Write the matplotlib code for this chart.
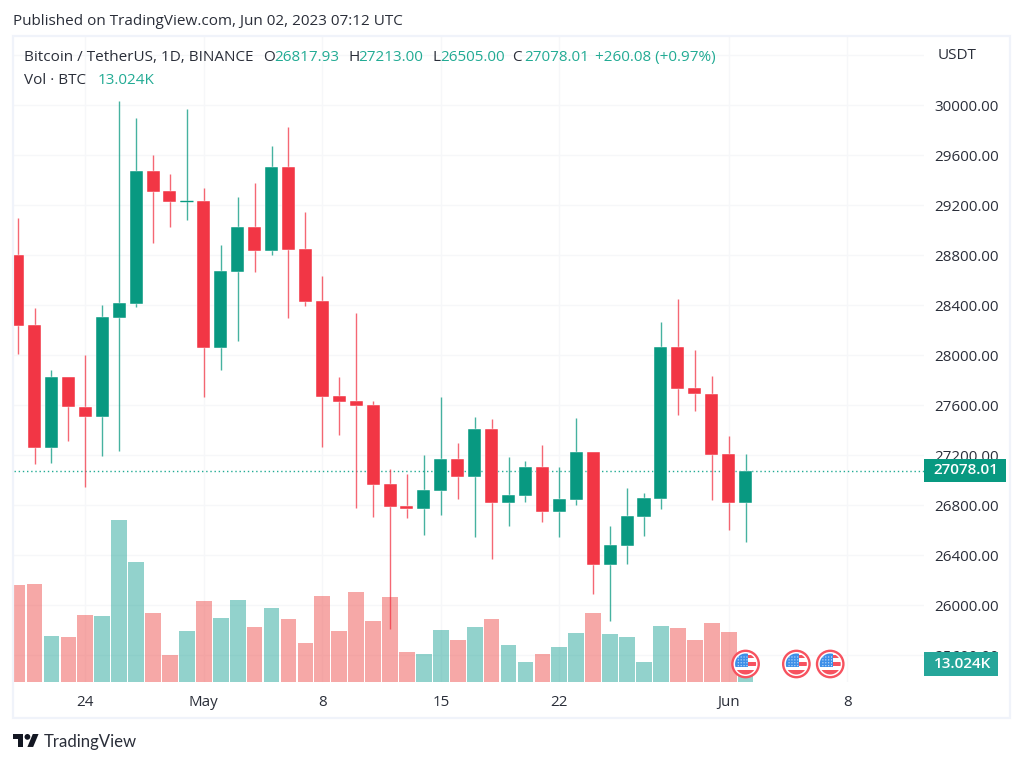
import matplotlib
matplotlib.use("Agg")
import matplotlib.pyplot as plt
from matplotlib.patches import Circle, Rectangle, Polygon

plt.rcParams['font.family'] = ['Open Sans', 'DejaVu Sans']

# ---- data (Apr 20 2023 .. Jun 2 2023, daily) ----
opens = [28799, 28242, 27261, 27823, 27589, 27506, 28301, 28413, 29474, 29311, 29229,
         29234, 28061, 28666, 29029, 28834, 29506, 28847, 28431, 27674, 27631, 27602,
         26970, 26794, 26767, 26914, 27167, 27029, 27407, 26818, 26871, 27103, 26746,
         26845, 27223, 26325, 26471, 26703, 26853, 28066, 27735, 27693, 27210, 26817.93]
highs = [29095, 28375, 27882, 27823, 28002, 28402, 30034, 29895, 29599, 29450, 29970,
         29338, 28882, 29269, 29381, 29677, 29823, 29143, 28637, 27823, 28335, 27631,
         27090, 27050, 27202, 27666, 27301, 27506, 27490, 27189, 27154, 27282, 27103,
         27498, 27223, 26634, 26938, 26901, 28266, 28447, 28039, 27834, 27351, 27213]
lows = [28010, 27127, 27141, 27317, 26943, 27197, 27237, 28383, 28895, 29029, 29082,
        27669, 27879, 28117, 28663, 28805, 28301, 28397, 27266, 27359, 26781, 26703,
        25810, 26695, 26562, 26722, 26850, 26549, 26367, 26634, 26829, 26669, 26543,
        26802, 26087, 25874, 26330, 26554, 26767, 27525, 27554, 26842, 26604, 26505]
closes = [28237, 27261, 27823, 27583, 27506, 28306, 28418, 29474, 29306, 29226, 29234,
          28061, 28671, 29029, 28834, 29506, 28839, 28426, 27669, 27626, 27597, 26965,
          26789, 26767, 26922, 27167, 27029, 27407, 26818, 26879, 27103, 26746, 26850,
          27223, 26325, 26479, 26711, 26858, 28066, 27730, 27687, 27205, 26818, 27078.01]
volumes_k = [82.2, 83.0, 38.8, 38.3, 57.0, 56.1, 137.4, 101.7, 58.4, 22.7, 43.6,
             68.8, 54.7, 69.4, 46.5, 62.9, 53.3, 32.9, 73.4, 43.6, 76.2, 51.6,
             72.0, 25.5, 24.1, 44.2, 36.0, 46.5, 53.3, 31.7, 16.7, 24.1, 29.5,
             41.9, 58.4, 40.5, 38.3, 17.3, 47.3, 45.6, 36.0, 50.4, 42.8, 13.024]
time_ticks = [4, 11, 18, 25, 32, 42, 49]
time_labels = ['24', 'May', '8', '15', '22', 'Jun', '8']
price_ticks = [25600, 26000, 26400, 26800, 27200, 27600, 28000, 28400, 28800, 29200, 29600, 30000, 30400]
price_labels = ['25600.00', '26000.00', '26400.00', '26800.00', '27200.00', '27600.00', '28000.00',
                '28400.00', '28800.00', '29200.00', '29600.00', '30000.00', '']
last_price = 27078.01
event_days = [43, 46, 48]

GREEN, RED = '#089981', '#F23645'
VGREEN, VRED = '#26a69a', '#ef5350'
TXT = '#2a2e39'
TXTG = '#22ab94'
GRID = '#f6f7f9'
FRAME = '#f0f3fa'
FS = 10.9
HS = 11.0

W, H = 1024, 765
fig = plt.figure(figsize=(W / 100, H / 100), dpi=100, facecolor='white')
L, R, T, B = 13.5, 924, 37, 682
pos = [L / W, 1 - B / H, (R - L) / W, (B - T) / H]
XLIM = (-0.242, 53.54)
YLIM = (25386.4, 30546.4)

# base axes: grid, scales
base = fig.add_axes(pos, zorder=1)
base.set_xlim(*XLIM); base.set_ylim(*YLIM)
base.yaxis.tick_right()
base.set_yticks(price_ticks); base.set_yticklabels(price_labels)
base.set_xticks(time_ticks); base.set_xticklabels(time_labels)
base.tick_params(axis='y', length=0, pad=7.5, labelsize=FS, labelcolor=TXT)
base.tick_params(axis='x', length=0, pad=9.5, labelsize=FS, labelcolor=TXT)
base.grid(True, color=GRID, lw=1)
base.set_axisbelow(True)
for s in base.spines.values():
    s.set_visible(False)

# volume
vol = fig.add_axes(pos, zorder=2)
vol.patch.set_alpha(0); vol.axis('off')
vol.set_xlim(*XLIM); vol.set_ylim(0, 548)
xs = list(range(len(closes)))
vcols = [VGREEN if c >= o else VRED for o, c in zip(opens, closes)]
vol.bar(xs, volumes_k, width=0.93, color=vcols, alpha=0.5, linewidth=0)

# candles
ax = fig.add_axes(pos, zorder=3)
ax.patch.set_alpha(0); ax.axis('off')
ax.set_xlim(*XLIM); ax.set_ylim(*YLIM)
ax.axhline(last_price, color=TXTG, lw=1, ls=(0, (1, 2)), zorder=1)
cols = [GREEN if c >= o else RED for o, c in zip(opens, closes)]
ax.vlines(xs, lows, highs, colors=cols, lw=1.0, alpha=0.75, zorder=2)
ax.bar(xs, [abs(c - o) for o, c in zip(opens, closes)],
       bottom=[min(o, c) for o, c in zip(opens, closes)],
       width=0.77, color=cols, edgecolor='white', linewidth=0.3, zorder=3)
ax.hlines(closes[10], xs[10] - 0.385, xs[10] + 0.385, colors=GREEN, lw=1, zorder=3)

# overlay in pixel coordinates
ov = fig.add_axes([0, 0, 1, 1], zorder=5)
ov.set_xlim(0, W); ov.set_ylim(H, 0); ov.axis('off'); ov.patch.set_alpha(0)

ov.add_patch(Rectangle((13, 36), 997, 682, fill=False, ec=FRAME, lw=1.6))


def txt(x, y, s, c=TXT, fs=HS, ha='left', **k):
    ov.text(x, y, s, color=c, fontsize=fs, ha=ha, va='center', **k)


txt(13, 21, 'Published on TradingView.com, Jun 02, 2023 07:12 UTC')
txt(24, 57, 'Bitcoin / TetherUS, 1D, BINANCE')
for x, vx, lab, val in [(263, 274, 'O', '26817.93'), (348, 358, 'H', '27213.00'),
                        (432, 440, 'L', '26505.00'), (512, 524, 'C', '27078.01')]:
    txt(x, 57, lab)
    txt(vx, 57, val, c=TXTG)
txt(595, 57, '+260.08 (+0.97%)', c=TXTG)
txt(24, 80, 'Vol · BTC')
txt(98, 80, '13.024K', c=TXTG)
txt(938, 55, 'USDT')

# last value labels
ov.add_patch(Rectangle((924, 458.5), 81.5, 23.5, fc=GREEN, ec='none'))
txt(965.5, 470, '27078.01', c='white', ha='center', fontweight='semibold')
ov.add_patch(Rectangle((924, 652), 73.5, 24, fc=VGREEN, ec='none'))
txt(962.5, 664, '13.024K', c='white', ha='center', fontweight='semibold')

# US flag event markers
for d in event_days:
    cx = ax.transData.transform((d, 0))[0]
    cy = 664
    ov.add_patch(Circle((cx, cy), 13.2, fc='white', ec='#f7525f', lw=1.7, zorder=6))
    clip = Circle((cx, cy), 10.5, transform=ov.transData)
    parts = [
        Rectangle((cx - 11, cy - 11), 13.3, 13.5, fc='#3d8fe8', ec='none'),
        Rectangle((cx + 2.3, cy - 9), 10, 2.6, fc='#f7525f', ec='none'),
        Rectangle((cx + 2.3, cy - 2.2), 10, 4.4, fc='#f7525f', ec='none'),
        Rectangle((cx - 11, cy + 6), 22, 5, fc='#f7525f', ec='none'),
    ]
    for p in parts:
        p.set_zorder(7)
        ov.add_patch(p)
        p.set_clip_path(clip)
    for i in range(4):
        for j in range(4):
            ov.add_patch(Circle((cx - 7.3 + 2.9 * i, cy - 7 + 2.9 * j), 0.55, fc='white', ec='none', zorder=8))

# TradingView logo
u = 0.72
def lp(a, b):
    return (13 + a * u, 734 + (b - 4) * u)
ov.add_patch(Polygon([lp(14, 22), lp(7, 22), lp(7, 11), lp(0, 11), lp(0, 4), lp(14, 4)], fc='#131722', ec='none'))
ov.add_patch(Polygon([lp(28, 22), lp(20, 22), lp(27.5, 4), lp(35.5, 4)], fc='#131722', ec='none'))
ov.add_patch(Circle(lp(20, 8), 4 * u, fc='#131722', ec='none'))
txt(44, 742, 'TradingView', c='#2a2e39', fs=12.1, family=['Lato', 'DejaVu Sans'])

fig.savefig('out.png', dpi=100, facecolor='white')
